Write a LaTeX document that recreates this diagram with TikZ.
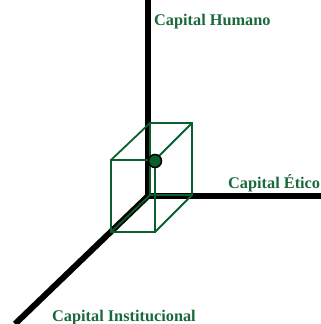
\documentclass[tikz,border=0pt]{standalone}
\usepackage{fontspec}
\setmainfont{Liberation Serif}
\definecolor{boxgreen}{RGB}{10,95,45}
\definecolor{txtgreen}{RGB}{25,105,60}
\begin{document}
\begin{tikzpicture}[x=1pt,y=-1pt,
  axis/.style={line width=6pt,black},
  edge/.style={line width=1.8pt,boxgreen},
  lbl/.style={text=txtgreen,font=\fontsize{16.3}{18}\selectfont\bfseries,inner sep=0pt,anchor=west}]
\useasboundingbox (0,0) rectangle (321,324);
\coordinate (O) at (148,196);
\coordinate (top) at (148,0);
\coordinate (right) at (321,196);
\coordinate (diag) at (15,324);
\draw[axis] (O) -- (top);
\draw[axis] (O) -- (right);
\draw[axis] (O) -- (diag);
% box
\coordinate (f1) at (111,160);
\coordinate (f2) at (155,160);
\coordinate (f3) at (155,232);
\coordinate (f4) at (111,232);
\coordinate (b1) at (150,123);
\coordinate (b2) at (192,123);
\coordinate (b3) at (192,195);
\coordinate (b4) at (150,195);
\draw[edge,line join=miter] (f1) -- (f2) -- (f3) -- (f4) -- cycle;
\draw[edge,line join=miter] (b1) -- (b2) -- (b3) -- (b4) -- cycle;
\draw[edge] (f1) -- (b1);
\draw[edge] (f2) -- (b2);
\draw[edge] (f3) -- (b3);
\draw[edge] (f4) -- (b4);
\node[circle,draw=black,line width=1.5pt,fill=boxgreen,minimum size=13pt,inner sep=0pt] (dot) at (155,161) {};
\node[lbl] (hum) at (154,22) {Capital Humano};
\node[lbl] (eti) at (228,183) {Capital Ético};
\node[lbl] (ins) at (52,318) {Capital Institucional};
\end{tikzpicture}
\end{document}
